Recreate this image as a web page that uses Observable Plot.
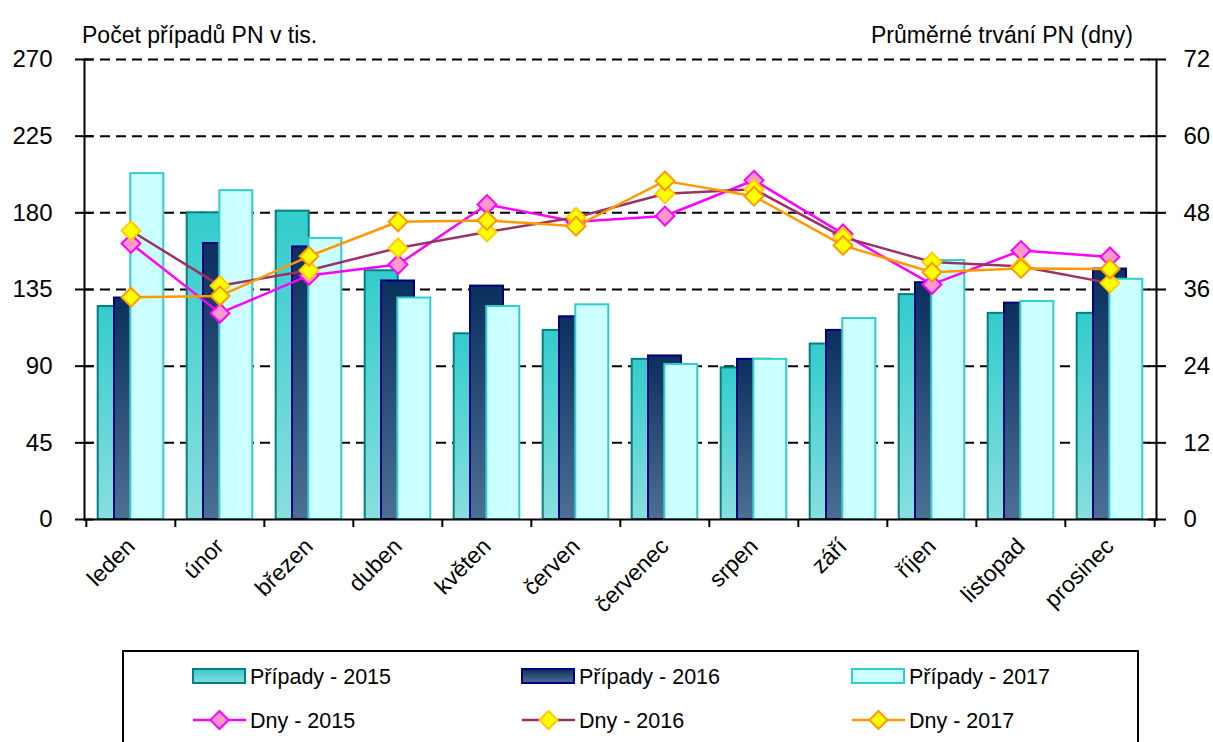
<!DOCTYPE html>
<html><head><meta charset="utf-8">
<script src="https://cdn.jsdelivr.net/npm/d3@7"></script>
<script src="https://cdn.jsdelivr.net/npm/@observablehq/plot@0.6"></script>
<style>
body{margin:0;background:#fff;font-family:"Liberation Sans",Arial,sans-serif;}
#wrap{position:relative;width:1213px;height:742px;overflow:hidden;background:#fff;}
#wrap > svg{position:absolute;left:0;top:0;}
</style></head><body><div id="wrap"></div>
<script>
const months = ["leden","únor","březen","duben","květen","červen","červenec","srpen","září","říjen","listopad","prosinec"];
const casesTicks = [0,45,90,135,180,225,270];
const dayTicks = [0,12,24,36,48,60,72];
const cases2015 = [125,180,181,146,109,111,94,89,103,132,121,121];
const cases2016 = [130,162,160,140,137,119,96,94,111,139,127,147];
const cases2017 = [203,193,165,130,125,126,91,94,118,152,128,141];
const days2015 = [43.2,32.3,38.2,39.9,49.3,46.6,47.5,53.1,44.7,36.8,42.1,41.1];
const days2016 = [45.2,36.6,39.0,42.5,45.0,47.3,51.0,51.7,44.2,40.3,39.6,37.0];
const days2017 = [34.8,35.0,41.2,46.6,46.8,45.9,53.0,50.6,42.9,38.7,39.3,39.2];
const titleLeft = "Počet případů PN v tis.";
const titleRight = "Průměrné trvání PN (dny)";

const barSeries = [
  {name:"Případy - 2015", values:cases2015, grad:"g2015", stroke:"#008080", dx:-16.3, stops:["#33CCCC","#8ADEDE"]},
  {name:"Případy - 2016", values:cases2016, grad:"g2016", stroke:"#000080", dx:0, stops:["#0B2F5E","#4C6F93"]},
  {name:"Případy - 2017", values:cases2017, grad:"g2017", stroke:"#33CCCC", dx:16.3, stops:["#CCFFFF","#CCFFFF"]}
];
const lineSeries = [
  {name:"Dny - 2015", values:days2015, line:"#FF00FF", fill:"#FF99CC", mstroke:"#FF00FF"},
  {name:"Dny - 2016", values:days2016, line:"#993366", fill:"#FFFF00", mstroke:"#FFCC00"},
  {name:"Dny - 2017", values:days2017, line:"#FF9900", fill:"#FFFF00", mstroke:"#FF9900"}
];
const k = 270/72;
const W = 1213, H = 640;
const mL = 84, mR = 57, mT = 59, mB = H - 519;
const step = (W - mL - mR) / months.length;
const font = "'Liberation Sans', Arial, sans-serif";

const marks = [
  Plot.ruleY([45,90,135,180,225,270], {stroke:"#000", strokeWidth:2, strokeDasharray:"10,6"})
];
for (const s of barSeries) {
  marks.push(Plot.barY(months.map((m,i)=>({month:m, value:s.values[i]})), {
    x:"month", y:"value", dx:s.dx, fill:`url(#${s.grad})`, stroke:s.stroke, strokeWidth:2
  }));
}
marks.push(
  Plot.frame({anchor:"left", stroke:"#000", strokeWidth:2}),
  Plot.frame({anchor:"right", stroke:"#000", strokeWidth:2}),
  Plot.frame({anchor:"bottom", stroke:"#000", strokeWidth:2}),
  Plot.axisY(casesTicks, {anchor:"left", tickSize:9, tickPadding:23, fontSize:24, strokeWidth:2, label:null, tickFormat:d=>d}),
  Plot.axisY(casesTicks, {anchor:"left", tickSize:9, dx:9, strokeWidth:2, label:null, tickFormat:()=>""}),
  Plot.axisY(dayTicks.map(d=>d*k), {anchor:"right", tickSize:9, tickPadding:18, fontSize:24, strokeWidth:2, label:null, tickFormat:v=>Math.round(v/k)}),
  Plot.axisY(dayTicks.map(d=>d*k), {anchor:"right", tickSize:9, dx:-9, strokeWidth:2, label:null, tickFormat:()=>""}),
  Plot.axisX({anchor:"bottom", tickSize:0, tickPadding:23, tickRotate:-45, fontSize:23, label:null, dx:0}),
  Plot.axisX({anchor:"bottom", tickSize:8, strokeWidth:2, dx:-step/2, label:null, tickFormat:()=>""}),
  Plot.axisX([months[months.length-1]], {anchor:"bottom", tickSize:8, strokeWidth:2, dx:step/2, label:null, tickFormat:()=>""})
);
for (const s of lineSeries) {
  const data = months.map((m,i)=>({month:m, value:s.values[i]}));
  marks.push(Plot.line(data, {x:"month", y:d=>d.value*k, stroke:s.line, strokeWidth:2.5}));
  marks.push(Plot.dot(data, {x:"month", y:d=>d.value*k, symbol:"diamond2", r:8.5, fill:s.fill, stroke:s.mstroke, strokeWidth:2}));
}

const svg = Plot.plot({
  width:W, height:H,
  marginLeft:mL, marginRight:mR, marginTop:mT, marginBottom:mB,
  style:{fontFamily:font, background:"#fff", color:"#000", overflow:"visible"},
  x:{domain:months, paddingInner:0.63, paddingOuter:0.315},
  y:{domain:[0,270]},
  marks
});
const defs = d3.select(svg).insert("defs", ":first-child");
function addGrad(sel, id, stops){
  const g = sel.append("linearGradient").attr("id", id).attr("x1",0).attr("y1",0).attr("x2",0).attr("y2",1);
  g.append("stop").attr("offset","0%").attr("stop-color",stops[0]);
  g.append("stop").attr("offset","100%").attr("stop-color",stops[1]);
}
for (const s of barSeries) addGrad(defs, s.grad, s.stops);
document.getElementById("wrap").appendChild(svg);

// overlay: titles and legend
const ov = d3.select("#wrap").append("svg").attr("width",W).attr("height",742)
  .style("font-family", font);
const odefs = ov.append("defs");
for (const s of barSeries) addGrad(odefs, "L"+s.grad, s.stops);
ov.append("text").attr("x",82).attr("y",43).attr("font-size",23).text(titleLeft);
ov.append("text").attr("x",1133).attr("y",43).attr("font-size",23).attr("text-anchor","end").text(titleRight);

ov.append("rect").attr("x",123).attr("y",651).attr("width",1015).attr("height",120)
  .attr("fill","#fff").attr("stroke","#000").attr("stroke-width",2);
const colX = [193, 522, 852];
const row1 = 676, row2 = 720;
barSeries.forEach((s,i)=>{
  ov.append("rect").attr("x",colX[i]).attr("y",row1-7).attr("width",52).attr("height",14)
    .attr("fill",`url(#L${s.grad})`).attr("stroke",s.stroke).attr("stroke-width",2);
  ov.append("text").attr("x",colX[i]+57).attr("y",row1).attr("dy","0.35em").attr("font-size",21.5).text(s.name);
});
lineSeries.forEach((s,i)=>{
  const x0 = colX[i];
  ov.append("line").attr("x1",x0).attr("x2",x0+53).attr("y1",row2).attr("y2",row2)
    .attr("stroke",s.line).attr("stroke-width",2.5);
  const cx = x0+26.5, r = 9;
  ov.append("path").attr("d",`M${cx},${row2-r}L${cx+r},${row2}L${cx},${row2+r}L${cx-r},${row2}Z`)
    .attr("fill",s.fill).attr("stroke",s.mstroke).attr("stroke-width",2);
  ov.append("text").attr("x",x0+57).attr("y",row2).attr("dy","0.35em").attr("font-size",21.5).text(s.name);
});
</script></body></html>
